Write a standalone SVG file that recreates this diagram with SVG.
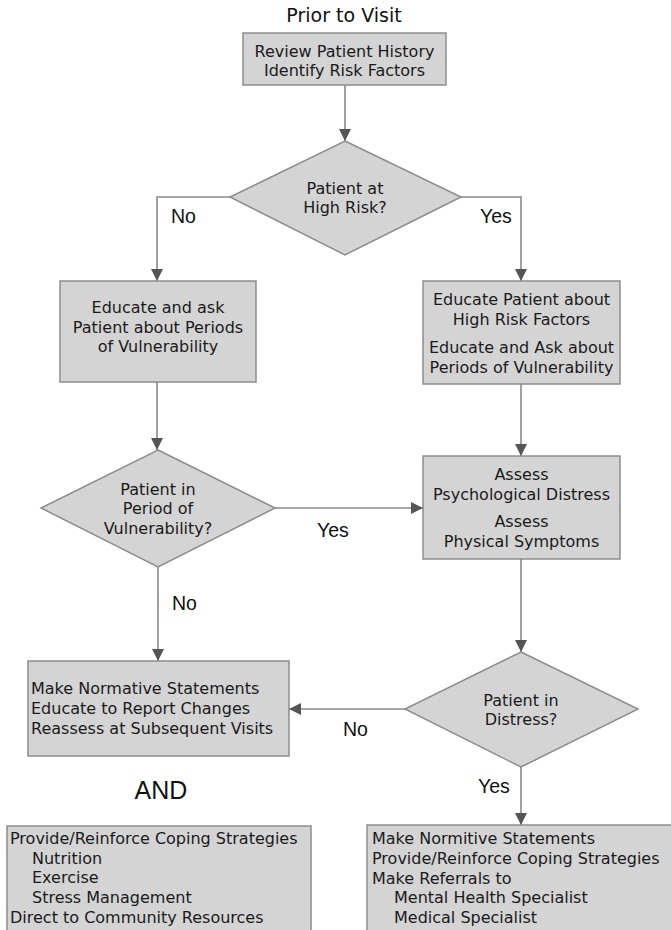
<svg xmlns="http://www.w3.org/2000/svg" width="671" height="930" viewBox="0 0 671 930">
  <style>
    .box { fill: #d4d4d4; stroke: #8c8c8c; stroke-width: 1.5; }
    .t { font-family: "DejaVu Sans", Verdana, sans-serif; font-size: 16px; fill: #1a1a1a; }
    .c { text-anchor: middle; }
    .lbl { font-family: "Liberation Sans", Arial, sans-serif; font-size: 19.5px; fill: #111; }
    .hdr { font-family: "DejaVu Sans", Verdana, sans-serif; font-size: 19px; fill: #111; text-anchor: middle; }
    .and { font-family: "Liberation Sans", Arial, sans-serif; font-size: 25px; fill: #111; text-anchor: middle; }
    .wire { fill: none; stroke: #8a8a8a; stroke-width: 1.6; marker-end: url(#tip); }
  </style>
  <defs>
    <marker id="tip" markerUnits="userSpaceOnUse" markerWidth="12" markerHeight="14" refX="12" refY="6" orient="auto">
      <path d="M0,0 L12,6 L0,12 Z" fill="#555"/>
    </marker>
  </defs>
  <rect width="671" height="930" fill="#fff"/>

  <text class="hdr" x="344" y="22">Prior to Visit</text>

  <g id="connectors">
    <path class="wire" d="M345,85 V141"/>
    <path class="wire" d="M230,197 H157 V281"/>
    <path class="wire" d="M461,197 H521 V281"/>
    <path class="wire" d="M157,382 V450"/>
    <path class="wire" d="M521,384 V456"/>
    <path class="wire" d="M275,508 H423"/>
    <path class="wire" d="M158,567 V661"/>
    <path class="wire" d="M521,559 V652"/>
    <path class="wire" d="M405,709 H289"/>
    <path class="wire" d="M521,767 V825"/>
    <text class="lbl" x="171" y="223">No</text>
    <text class="lbl" x="480" y="223">Yes</text>
    <text class="lbl" x="317" y="537">Yes</text>
    <text class="lbl" x="172" y="610">No</text>
    <text class="lbl" x="343" y="736">No</text>
    <text class="lbl" x="478" y="793">Yes</text>
  </g>

  <g id="review">
    <rect class="box" x="243" y="33" width="203" height="52"/>
    <text class="t c" x="344.5" y="57">Review Patient History</text>
    <text class="t c" x="344.5" y="76">Identify Risk Factors</text>
  </g>

  <g id="high-risk">
    <polygon class="box" points="345,141 461,197 345,255 230,197"/>
    <text class="t c" x="345" y="194">Patient at</text>
    <text class="t c" x="345" y="213">High Risk?</text>
  </g>

  <g id="educate-low">
    <rect class="box" x="60" y="281" width="196" height="101"/>
    <text class="t c" x="158" y="313">Educate and ask</text>
    <text class="t c" x="158" y="333">Patient about Periods</text>
    <text class="t c" x="158" y="352">of Vulnerability</text>
  </g>

  <g id="educate-high">
    <rect class="box" x="423" y="281" width="197" height="103"/>
    <text class="t c" x="521.5" y="305">Educate Patient about</text>
    <text class="t c" x="521.5" y="325">High Risk Factors</text>
    <text class="t c" x="521.5" y="353">Educate and Ask about</text>
    <text class="t c" x="521.5" y="373">Periods of Vulnerability</text>
  </g>

  <g id="vulnerability">
    <polygon class="box" points="158,450 275,508 158,567 41,508"/>
    <text class="t c" x="158" y="495">Patient in</text>
    <text class="t c" x="158" y="514">Period of</text>
    <text class="t c" x="158" y="534">Vulnerability?</text>
  </g>

  <g id="assess">
    <rect class="box" x="423" y="456" width="197" height="103"/>
    <text class="t c" x="521.5" y="480">Assess</text>
    <text class="t c" x="521.5" y="500">Psychological Distress</text>
    <text class="t c" x="521.5" y="527">Assess</text>
    <text class="t c" x="521.5" y="547">Physical Symptoms</text>
  </g>

  <g id="distress">
    <polygon class="box" points="521,652 638,709 521,767 405,709"/>
    <text class="t c" x="521" y="706">Patient in</text>
    <text class="t c" x="521" y="725">Distress?</text>
  </g>

  <g id="normative">
    <rect class="box" x="28" y="661" width="261" height="95"/>
    <text class="t" x="31" y="694">Make Normative Statements</text>
    <text class="t" x="31" y="714">Educate to Report Changes</text>
    <text class="t" x="31" y="734">Reassess at Subsequent Visits</text>
  </g>

  <text class="and" x="161" y="799">AND</text>

  <g id="coping">
    <rect class="box" x="7" y="826" width="304" height="106"/>
    <text class="t" x="10" y="844">Provide/Reinforce Coping Strategies</text>
    <text class="t" x="32" y="864">Nutrition</text>
    <text class="t" x="32" y="883">Exercise</text>
    <text class="t" x="32" y="903">Stress Management</text>
    <text class="t" x="10" y="923">Direct to Community Resources</text>
  </g>

  <g id="referrals">
    <rect class="box" x="367" y="825" width="308" height="107"/>
    <text class="t" x="372" y="844">Make Normitive Statements</text>
    <text class="t" x="372" y="864">Provide/Reinforce Coping Strategies</text>
    <text class="t" x="372" y="884">Make Referrals to</text>
    <text class="t" x="394" y="903">Mental Health Specialist</text>
    <text class="t" x="394" y="923">Medical Specialist</text>
  </g>
</svg>
